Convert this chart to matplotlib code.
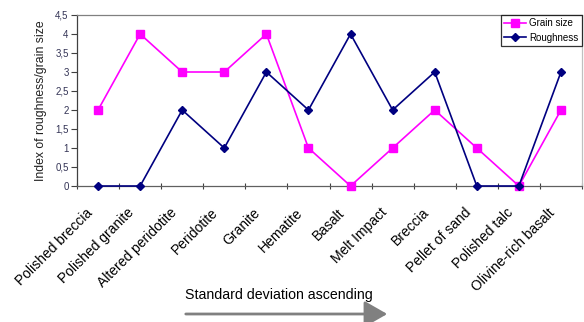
import matplotlib
matplotlib.use("Agg")
import matplotlib.pyplot as plt
from matplotlib.ticker import FuncFormatter, FixedLocator
from matplotlib.transforms import ScaledTranslation

categories = ["Polished breccia", "Polished granite", "Altered peridotite", "Peridotite",
              "Granite", "Hematite", "Basalt", "Melt Impact", "Breccia", "Pellet of sand",
              "Polished talc", "Olivine-rich basalt"]
grain_size = [2, 4, 3, 3, 4, 1, 0, 1, 2, 1, 0, 2]
roughness = [0, 0, 2, 1, 3, 2, 4, 2, 3, 0, 0, 3]

plt.rcParams['font.family'] = ['Liberation Sans', 'DejaVu Sans']

W, H = 584, 322
fig = plt.figure(figsize=(W/100, H/100), dpi=100)
ax = fig.add_axes([77/W, 1-186/H, (582-77)/W, (186-15)/H])

x = list(range(len(categories)))
ax.plot(x, grain_size, color='#ff00ff', marker='s', markersize=5.3, linewidth=1.2,
        label='Grain size', clip_on=False, zorder=3)
ax.plot(x, roughness, color='#000080', marker='D', markersize=4.3, linewidth=1.2,
        label='Roughness', clip_on=False, zorder=4)

ax.set_xlim(-0.5, len(categories) - 0.5)
ax.set_ylim(0, 4.5)
ax.set_yticks([i * 0.5 for i in range(10)])
ax.yaxis.set_major_formatter(FuncFormatter(lambda v, p: f"{v:g}".replace('.', ',')))
ax.tick_params(axis='y', labelsize=7, colors='#404040', length=4, width=0.8,
               labelcolor='#333355', pad=2)

ax.set_xticks(x)
ax.set_xticklabels(categories, rotation=45, ha='right', rotation_mode='anchor', fontsize=10)
ax.tick_params(axis='x', which='major', length=0, pad=14)
shift = ScaledTranslation(-13/100, 0, fig.dpi_scale_trans)
for lbl in ax.get_xticklabels():
    lbl.set_transform(lbl.get_transform() + shift)
ax.xaxis.set_minor_locator(FixedLocator([i - 0.5 for i in range(len(categories) + 1)]))
ax.tick_params(axis='x', which='minor', length=4, width=0.8, color='#404040', direction='inout')

ax.set_ylabel('Index of roughness/grain size', fontsize=8.8, color='#202020', labelpad=6)

ax.spines['left'].set_color('#404040')
ax.spines['bottom'].set_color('#606060')
ax.spines['top'].set_color('#808080')
ax.spines['right'].set_color('#c0c0c0')
for s in ax.spines.values():
    s.set_linewidth(0.9)

leg = ax.legend(loc='upper right', bbox_to_anchor=(1.0, 1.0), fontsize=7, frameon=True,
                fancybox=False, edgecolor='black', borderpad=0.35, handlelength=2.3,
                labelspacing=0.45, handletextpad=0.3, borderaxespad=0.0)
leg.get_frame().set_linewidth(0.9)

fig.text(185/W, 1 - 295/H, 'Standard deviation ascending', fontsize=10.2, va='center', ha='left')
fig.patches.append(matplotlib.patches.FancyArrowPatch(
    (183/W, 1 - 314/H), (390/W, 1 - 314/H), transform=fig.transFigure,
    arrowstyle='-|>,head_length=7,head_width=4', color='#808080', linewidth=2,
    mutation_scale=2))

fig.savefig('out.png', dpi=100)
